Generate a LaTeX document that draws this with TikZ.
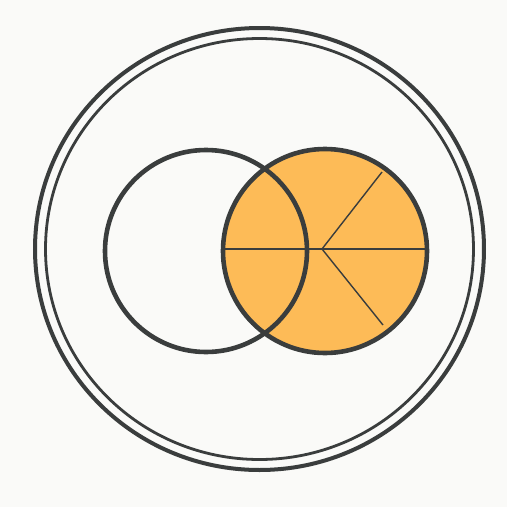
\documentclass[tikz,border=0pt]{standalone}
\usepackage{tikz}
\definecolor{ink}{HTML}{3A3D3D}
\definecolor{fillor}{HTML}{FDBB57}
\definecolor{bg}{HTML}{FAFAF8}
\tikzset{
  ring/.style={draw=ink, line width=4.6pt},
  thinring/.style={draw=ink, line width=2.8pt},
  outerring/.style={draw=ink, line width=4pt},
  spoke/.style={draw=ink, line width=1.4pt},
}
\begin{document}
\begin{tikzpicture}[x=1pt,y=-1pt]
\fill[bg] (0,0) rectangle (507,507);
\useasboundingbox (0,0) rectangle (507,507);
\coordinate (O) at (259.5,249);
\coordinate (L) at (206,251);
\coordinate (R) at (325,251);
\coordinate (C) at (322,249);
\coordinate (W) at (223,249);
\coordinate (E) at (427,249);
\coordinate (U) at (382,172);
\coordinate (D) at (383,325);
% outer double ring
\draw[outerring] (O) ellipse [x radius=224.5, y radius=221];
\draw[thinring] (O) ellipse [x radius=214, y radius=210.5];
% right circle fill
\fill[fillor] (R) circle (102);
\draw[spoke] (W) -- (E);
\draw[spoke] (C) -- (U);
\draw[spoke] (C) -- (D);
\draw[ring] (R) circle (102);
\draw[ring] (L) circle (101);
\end{tikzpicture}
\end{document}
